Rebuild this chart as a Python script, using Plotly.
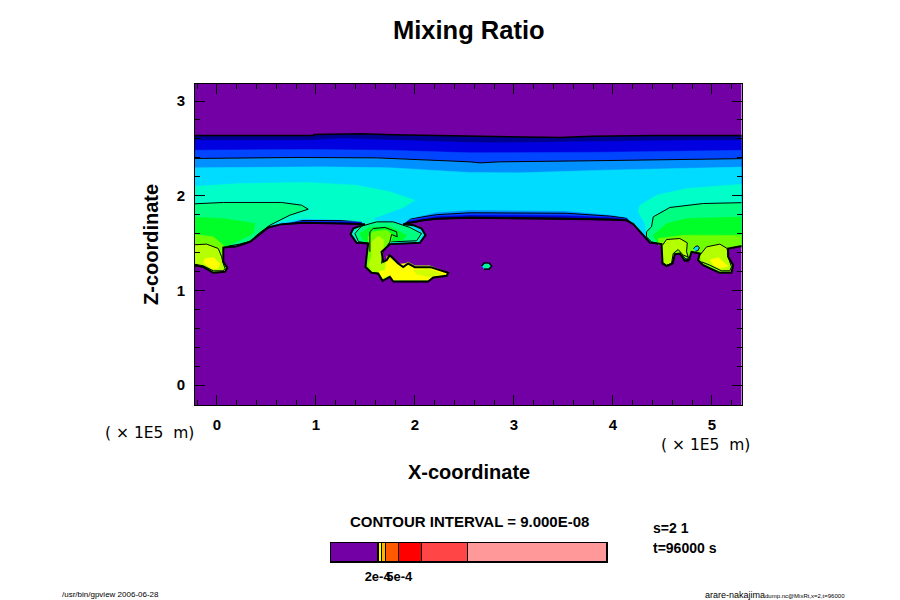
import plotly.graph_objects as go

# Contour-band boundaries; x in units of 1E5 m, z in units of 1E5 m
navy_top_x = [-0.3, 0.973, 0.98, 1.276, 1.461, 1.781, 2.336, 2.555, 2.893, 3.465, 3.785, 4.425, 5.4]
navy_top_z = [2.636, 2.636, 2.647, 2.654, 2.654, 2.643, 2.633, 2.629, 2.629, 2.615, 2.629, 2.636, 2.636]
blue_top_x = [-0.3, 0.939, 1.276, 1.781, 2.353, 2.556, 2.825, 3.835, 4.846, 5.4]
blue_top_z = [2.587, 2.587, 2.604, 2.587, 2.562, 2.562, 2.559, 2.576, 2.587, 2.587]
royal_top_x = [-0.3, 0.939, 1.747, 2.556, 3.903, 5.4]
royal_top_z = [2.481, 2.488, 2.481, 2.453, 2.46, 2.481]
azure_top_x = [-0.3, 0.821, 1.613, 2.353, 2.556, 2.657, 2.859, 3.768, 5.4]
azure_top_z = [2.393, 2.404, 2.40, 2.369, 2.358, 2.347, 2.358, 2.369, 2.393]
cyan_top_x = [-0.3, 1.074, 1.747, 2.556, 3.061, 3.903, 5.4]
cyan_top_z = [2.295, 2.305, 2.295, 2.245, 2.242, 2.27, 2.305]

band_low_x = [-0.3, 0.65, 0.87, 1.24, 1.45, 1.6, 1.85, 1.95, 2.22, 2.56, 3.53, 3.97, 4.14, 4.21, 5.4]
blue_low_z = [1.72, 1.71, 1.72, 1.715, 1.715, 1.76, 1.75, 1.73, 1.77, 1.785, 1.775, 1.76, 1.75, 1.72, 1.72]
royal_low_z = [1.72, 1.715, 1.73, 1.725, 1.725, 1.77, 1.76, 1.74, 1.785, 1.80, 1.795, 1.775, 1.76, 1.73, 1.73]
azure_low_z = [1.73, 1.72, 1.74, 1.735, 1.735, 1.78, 1.77, 1.755, 1.80, 1.82, 1.815, 1.785, 1.765, 1.74, 1.74]

left_x = [-0.3, -0.138, -0.037, 0.081, 0.104, 0.064, 0.064, 0.198, 0.333, 0.417, 0.518, 0.653]
left_z = [1.277, 1.249, 1.186, 1.196, 1.239, 1.302, 1.453, 1.467, 1.513, 1.584, 1.665, 1.70]
ridge_a_x = [0.872, 1.242, 1.444]
ridge_a_z = [1.714, 1.707, 1.707]
ridge_a_cyan_z = [1.75, 1.75, 1.745]
cap_a_x = [1.495, 1.377, 1.35, 1.411, 1.528]
cap_a_z = [1.70, 1.654, 1.594, 1.503, 1.496]
stem_x = [1.511, 1.501, 1.562, 1.629, 1.673, 1.747, 1.781, 2.134, 2.185, 2.32, 2.336, 2.252, 2.158, 1.999, 1.932, 1.882, 1.831, 1.747, 1.714, 1.68, 1.663]
stem_z = [1.355, 1.249, 1.186, 1.179, 1.101, 1.143, 1.094, 1.094, 1.137, 1.154, 1.186, 1.214, 1.246, 1.246, 1.284, 1.246, 1.284, 1.372, 1.32, 1.302, 1.408]
cap_b_x = [1.747, 2.05, 2.107, 2.067, 1.983, 1.882]
cap_b_z = [1.489, 1.503, 1.584, 1.654, 1.689, 1.70]
ridge_b_x = [2.084, 2.219, 2.555, 3.532, 3.97, 4.138]
ridge_b_z = [1.74, 1.756, 1.767, 1.76, 1.749, 1.742]
ridge_b_cyan_x = [1.95, 2.22, 2.56, 3.53, 3.97, 4.14]
ridge_b_cyan_z = [1.76, 1.825, 1.85, 1.84, 1.80, 1.77]
right_x = [4.206, 4.307, 4.374, 4.492, 4.502, 4.543, 4.603, 4.627, 4.677, 4.728, 4.772, 4.795, 4.879, 4.862, 4.913, 5.081, 5.199, 5.216, 5.165, 5.165, 5.29, 5.4]
right_z = [1.70, 1.584, 1.506, 1.489, 1.284, 1.256, 1.284, 1.383, 1.39, 1.313, 1.327, 1.408, 1.39, 1.32, 1.267, 1.186, 1.19, 1.267, 1.355, 1.443, 1.467, 1.467]

# aqua
aqua_l_x = [-0.3, 0.232, 0.906, 1.41, 1.747, 2.0, 1.882, 1.714, 1.562, 1.747, 1.949, 2.084, 2.034, 1.747, 1.673]
aqua_l_z = [2.094, 2.129, 2.14, 2.112, 2.041, 1.953, 1.876, 1.812, 1.753, 1.707, 1.679, 1.594, 1.513, 1.503, 1.408]
aqua_l2_x = [1.528, 1.411, 1.367, 1.40, 1.478, 1.242, 0.872, 0.653, 0.518, 0.417, 0.333, 0.198, 0.064, 0.064]
aqua_l2_z = [1.503, 1.513, 1.594, 1.654, 1.724, 1.749, 1.76, 1.724, 1.686, 1.601, 1.531, 1.489, 1.467, 1.30]
blob_base_x = [0.104, 0.081, -0.037, -0.138, -0.3]
blob_base_z = [1.239, 1.196, 1.186, 1.249, 1.277]
aqua_r_x = [5.4, 4.745, 4.442, 4.273, 4.256, 4.324, 4.34, 4.391]
aqua_r_z = [2.129, 2.076, 2.006, 1.90, 1.83, 1.707, 1.584, 1.524]

# spring green
spring_l_x = [-0.3, 0.064, 0.653, 0.855, 0.922, 0.737, 0.535, 0.40, 0.35, 0.232, 0.064, 0.064]
spring_l_z = [1.911, 1.929, 1.929, 1.90, 1.858, 1.795, 1.689, 1.584, 1.524, 1.489, 1.46, 1.30]
spring_c_x = [1.747, 2.017, 2.067, 1.949, 1.781, 1.613, 1.461, 1.394, 1.43, 1.53]
spring_c_z = [1.513, 1.524, 1.601, 1.665, 1.724, 1.724, 1.679, 1.601, 1.515, 1.50]
spring_r_x = [5.4, 4.913, 4.576, 4.408, 4.391, 4.34, 4.34, 4.391]
spring_r_z = [1.929, 1.918, 1.876, 1.777, 1.672, 1.619, 1.566, 1.513]

# green
green_l_x = [-0.3, 0.064, 0.384, 0.367, 0.232, 0.131, 0.064, 0.064]
green_l_z = [1.777, 1.76, 1.707, 1.601, 1.531, 1.489, 1.455, 1.30]
green_c_x = [1.76, 1.88, 1.916, 1.747, 1.545, 1.444, 1.478, 1.53]
green_c_z = [1.52, 1.53, 1.584, 1.672, 1.665, 1.601, 1.531, 1.51]
green_r_x = [5.4, 4.745, 4.543, 4.408, 4.442]
green_r_z = [1.777, 1.76, 1.707, 1.584, 1.513]

# lime
lime_l_x = [-0.3, -0.037, 0.064, 0.064]
lime_l_z = [1.601, 1.566, 1.478, 1.30]
lime_c_x = [1.747, 1.781, 1.714, 1.572, 1.528, 1.53]
lime_c_z = [1.503, 1.584, 1.637, 1.619, 1.566, 1.45]
lime_r_x = [5.4, 4.711, 4.458, 4.46]
lime_r_z = [1.58, 1.584, 1.548, 1.48]

# yellow-green
yg_l_x = [-0.3, -0.105, 0.013, 0.047, 0.064, 0.081, 0.064, -0.037, -0.138, -0.3]
yg_l_z = [1.478, 1.489, 1.443, 1.355, 1.284, 1.232, 1.207, 1.207, 1.26, 1.291]
yg_c_x = [1.629, 1.687, 1.68, 1.673, 1.69, 1.72, 1.75, 1.82, 1.88, 1.93, 2.0, 2.15, 2.25, 2.32, 2.31, 2.18, 2.13, 1.78, 1.74, 1.67, 1.62, 1.56, 1.53, 1.562, 1.562]
yg_c_z = [1.577, 1.531, 1.425, 1.32, 1.28, 1.33, 1.38, 1.27, 1.26, 1.30, 1.26, 1.26, 1.22, 1.19, 1.16, 1.15, 1.11, 1.11, 1.16, 1.12, 1.2, 1.2, 1.27, 1.355, 1.513]
yg_r1_x = [4.502, 4.543, 4.677, 4.752, 4.745, 4.761, 4.711, 4.66, 4.61, 4.593, 4.543, 4.509]
yg_r1_z = [1.478, 1.538, 1.548, 1.503, 1.408, 1.355, 1.372, 1.432, 1.39, 1.284, 1.267, 1.291]
yg_r2_x = [4.879, 4.947, 5.081, 5.155, 5.165, 5.199, 5.182, 5.098, 4.98, 4.896]
yg_r2_z = [1.372, 1.46, 1.489, 1.443, 1.355, 1.249, 1.207, 1.207, 1.267, 1.302]

# yellow
yel_l_x = [-0.121, -0.037, 0.03, 0.013, -0.054, -0.138]
yel_l_z = [1.337, 1.348, 1.284, 1.232, 1.232, 1.291]
yel_c_x = [1.714, 1.831, 1.93, 1.999, 2.151, 2.252, 2.32, 2.185, 2.134, 1.781, 1.747, 1.663, 1.629, 1.697]
yel_c_z = [1.362, 1.277, 1.286, 1.24, 1.232, 1.207, 1.178, 1.143, 1.11, 1.11, 1.161, 1.126, 1.196, 1.214]
yel_r_x = [4.98, 5.064, 5.165, 5.081, 5.014]
yel_r_z = [1.32, 1.348, 1.256, 1.232, 1.267]
yg_patch_x = [1.983, 2.151, 2.269, 2.151, 2.017]
yg_patch_z = [1.214, 1.221, 1.179, 1.143, 1.172]

# contour lines and small cells
cap_line_x = [1.545, 1.545, 1.579, 1.697, 1.815, 1.821, 1.764, 1.747, 1.68, 1.663]
cap_line_z = [1.408, 1.619, 1.654, 1.665, 1.619, 1.566, 1.591, 1.513, 1.408, 1.284]
cell_a_x = [2.674, 2.70, 2.75, 2.775, 2.75, 2.70]
cell_a_z = [1.258, 1.29, 1.29, 1.258, 1.225, 1.225]
cell_a_core_x = [2.695, 2.71, 2.74, 2.755, 2.74, 2.71]
cell_a_core_z = [1.258, 1.275, 1.275, 1.258, 1.24, 1.24]
cell_b_x = [4.815, 4.835, 4.86, 4.875, 4.86, 4.835]
cell_b_z = [1.44, 1.465, 1.47, 1.45, 1.42, 1.415]
notch_x = [4.70, 4.74, 4.78, 4.76, 4.72]
notch_z = [1.37, 1.33, 1.36, 1.30, 1.33]

# colour bar
cb_widths = [46.7, 1.6, 2.4, 4.6, 13, 23, 46, 139]
cb_colors = ["#7300A5", "#B4FF00", "#FFFF00", "#FFB400", "#FF5A00", "#FF0000", "#FF4545", "#FF9999"]
cb_tick_vals = [46.7, 68.3]
cb_tick_text = ["2e-4", "5e-4"]

NAVY, BLUE, ROYAL, AZURE, CYAN = "#000090", "#0000E0", "#0046FF", "#0090FF", "#00DCFF"
AQUA, SPRING, GREEN, LIME, YG, YEL = "#00FFC8", "#00FF80", "#00FF28", "#70FF00", "#B4FF00", "#FFFF00"
INK = "#000000"
rev = lambda a: list(a)[::-1]
outer_x = left_x + ridge_a_x + cap_a_x + stem_x + cap_b_x + ridge_b_x + right_x
outer_z = left_z + ridge_a_z + cap_a_z + stem_z + cap_b_z + ridge_b_z + right_z
cyan_low_x = left_x + ridge_a_x + cap_a_x + stem_x + cap_b_x + ridge_b_cyan_x + right_x
cyan_low_z = left_z + ridge_a_cyan_z + cap_a_z + stem_z + cap_b_z + ridge_b_cyan_z + right_z

fig = go.Figure()


def poly(x, z, color, line=0):
    fig.add_trace(go.Scatter(x=x, y=z, mode="lines", fill="toself", fillcolor=color,
                             line=dict(color=INK if line else color, width=line or 0.5),
                             hoverinfo="skip", showlegend=False))


poly(navy_top_x + rev(outer_x), navy_top_z + rev(outer_z), NAVY, 1.5)
poly(blue_top_x + rev(band_low_x), blue_top_z + rev(blue_low_z), BLUE)
poly(royal_top_x + rev(band_low_x), royal_top_z + rev(royal_low_z), ROYAL)
poly(azure_top_x + rev(band_low_x), azure_top_z + rev(azure_low_z), AZURE, 1)
poly(cyan_top_x + rev(cyan_low_x), cyan_top_z + rev(cyan_low_z), CYAN)
poly(aqua_l_x + rev(stem_x) + aqua_l2_x + blob_base_x, aqua_l_z + rev(stem_z) + aqua_l2_z + blob_base_z, AQUA)
poly(aqua_r_x + right_x[3:], aqua_r_z + right_z[3:], AQUA)
poly(spring_l_x + blob_base_x, spring_l_z + blob_base_z, SPRING, 1)
poly(stem_x + spring_c_x, stem_z + spring_c_z, SPRING, 1)
poly(spring_r_x + right_x[3:], spring_r_z + right_z[3:], SPRING, 1)
poly(green_l_x + blob_base_x, green_l_z + blob_base_z, GREEN)
poly(stem_x + green_c_x, stem_z + green_c_z, GREEN)
poly(green_r_x + right_x[3:], green_r_z + right_z[3:], GREEN)
poly(lime_l_x + blob_base_x, lime_l_z + blob_base_z, LIME)
poly(stem_x + lime_c_x, stem_z + lime_c_z, LIME)
poly(lime_r_x + right_x[3:], lime_r_z + right_z[3:], LIME)
poly(yg_l_x, yg_l_z, YG, 1)
poly(yg_c_x, yg_c_z, YG)
poly(yg_r1_x, yg_r1_z, YG, 1)
poly(yg_r2_x, yg_r2_z, YG, 1)
poly(yel_l_x, yel_l_z, YEL)
poly(yel_c_x, yel_c_z, YEL)
poly(yel_r_x, yel_r_z, YEL)
poly(yg_patch_x, yg_patch_z, "#D2FF00")
poly(notch_x, notch_z, CYAN, 1)
poly(cell_b_x, cell_b_z, CYAN, 1)
poly(cell_a_x, cell_a_z, CYAN, 1.6)
poly(cell_a_core_x, cell_a_core_z, SPRING)
fig.add_trace(go.Scatter(x=cap_line_x, y=cap_line_z, mode="lines", line=dict(color=INK, width=1),
                         hoverinfo="skip", showlegend=False))
fig.add_trace(go.Scatter(x=outer_x, y=outer_z, mode="lines", line=dict(color=INK, width=2),
                         hoverinfo="skip", showlegend=False))

for w, c in zip(cb_widths, cb_colors):
    fig.add_trace(go.Bar(x=[w], y=[0], orientation="h", marker=dict(color=c, line=dict(color=INK, width=1)),
                         xaxis="x2", yaxis="y2", width=1, showlegend=False, hoverinfo="skip"))

F = "Liberation Sans"
W, H = 900, 600


def note(text, px, py, size, anchor="center", bold=True, family=F, rot=0):
    fig.add_annotation(text=f"<b>{text}</b>" if bold else text, xref="paper", yref="paper",
                       x=px / W, y=1 - py / H, xanchor=anchor, yanchor="middle", showarrow=False,
                       textangle=rot, font=dict(family=family, size=size, color=INK))


note("Mixing Ratio", 469, 30, 25.5)
note("X-coordinate", 469, 472, 20)
note("Z-coordinate", 151, 245, 20, rot=-90)
note("( × 1E5  m)", 149, 433, 15.5, bold=False, family="DejaVu Sans ExtraLight, DejaVu Sans")
note("( × 1E5  m)", 705, 445, 15.5, bold=False, family="DejaVu Sans ExtraLight, DejaVu Sans")
note("CONTOUR INTERVAL = 9.000E-08", 469, 521, 15)
note("s=2 1", 651, 528, 14, anchor="left")
note("t=96000 s", 651, 548, 14, anchor="left")
note("/usr/bin/gpview 2006-06-28", 60, 594, 8, anchor="left", bold=False)
note("arare-nakajima", 703, 595, 9, anchor="left", bold=False)
note("dump.nc@MixRt,x=2,t=96000", 763, 596, 6, anchor="left", bold=False)

axis_common = dict(showgrid=False, zeroline=False, showline=True, linecolor=INK, linewidth=1, mirror="allticks",
                   ticks="inside", ticklen=10, tickwidth=1, tickcolor=INK, dtick=1,
                   tickfont=dict(family=F, size=15, color=INK), tickprefix="<b>", ticksuffix="</b>",
                   minor=dict(ticks="inside", ticklen=5, dtick=0.2, tickcolor=INK, tickwidth=1))
fig.update_layout(
    width=W, height=H, margin=dict(l=0, r=0, t=0, b=0), autosize=False,
    paper_bgcolor="white", plot_bgcolor="#7300A5", barmode="stack", bargap=0, showlegend=False,
    xaxis=dict(domain=[195 / W, 741.5 / W], range=[-0.222, 5.30], ticklabelstandoff=6, **axis_common),
    yaxis=dict(domain=[1 - 405 / H, 1 - 84 / H], range=[-0.21, 3.18], ticklabelstandoff=6, **axis_common),
    xaxis2=dict(domain=[331 / W, 607 / W], range=[0, sum(cb_widths)], anchor="y2", showgrid=False, zeroline=False,
                showline=True, linecolor=INK, mirror=True, ticks="", tickvals=cb_tick_vals,
                ticktext=[f"<b>{t}</b>" for t in cb_tick_text],
                tickangle=0, tickfont=dict(family=F, size=13, color=INK), ticklabelstandoff=2),
    yaxis2=dict(domain=[1 - 562 / H, 1 - 543 / H], range=[-0.5, 0.5], anchor="x2", showgrid=False, zeroline=False,
                showline=True, linecolor=INK, mirror=True, showticklabels=False, ticks=""),
)
fig.write_html("out.html", post_script="document.body.style.margin='0';", config=dict(displayModeBar=False))
